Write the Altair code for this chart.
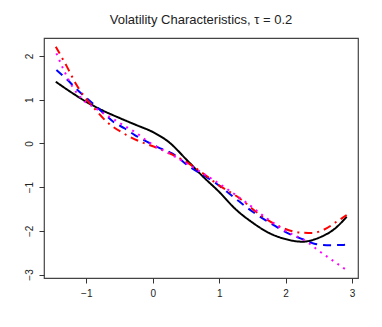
import altair as alt
import pandas as pd

# Solid black curve
black_x = [-1.46, -1.2, -1.0, -0.75, -0.5, -0.25, 0.0, 0.25, 0.5, 0.75, 1.0, 1.25, 1.5, 1.75, 2.0, 2.25, 2.5, 2.75, 2.92]
black_y = [1.41, 1.14, 0.95, 0.75, 0.58, 0.42, 0.26, 0.02, -0.36, -0.75, -1.11, -1.51, -1.81, -2.05, -2.19, -2.25, -2.16, -1.94, -1.68]

# Red dash-dot curve
red_x = [-1.46, -1.29, -1.16, -1.03, -0.88, -0.69, -0.44, -0.19, 0.06, 0.31, 0.54, 0.76, 0.96, 1.31, 1.62, 1.92, 2.22, 2.4, 2.57, 2.77, 2.92]
red_y = [2.21, 1.75, 1.37, 1.07, 0.80, 0.49, 0.23, 0.04, -0.10, -0.27, -0.46, -0.69, -0.92, -1.26, -1.64, -1.91, -2.04, -2.05, -1.98, -1.79, -1.64]

# Blue dashed curve
blue_x = [-1.45, -1.29, -1.16, -0.88, -0.71, -0.59, -0.42, -0.27, -0.09, 0.08, 0.29, 0.56, 0.94, 1.21, 1.51, 1.82, 2.07, 2.27, 2.42, 2.62, 2.92]
blue_y = [1.68, 1.46, 1.26, 0.88, 0.65, 0.49, 0.34, 0.19, 0.04, -0.09, -0.23, -0.54, -0.90, -1.22, -1.57, -1.87, -2.08, -2.20, -2.29, -2.33, -2.32]

# Magenta dotted curve
mag_x = [-1.45, -1.34, -1.21, -1.03, -0.88, -0.49, -0.24, -0.07, 0.34, 0.75, 1.21, 1.42, 1.72, 2.0, 2.32, 2.52, 2.70, 2.92]
mag_y = [2.06, 1.68, 1.30, 0.97, 0.82, 0.46, 0.23, 0.04, -0.31, -0.68, -1.14, -1.37, -1.72, -2.00, -2.25, -2.48, -2.67, -2.90]

x_ticks = [-1, 0, 1, 2, 3]
y_ticks = [-3, -2, -1, 0, 1, 2]

series = ["black", "blue", "red", "magenta"]
colors = ["#000000", "#0000FF", "#FF0000", "#FF00FF"]
dashes = [[1, 0], [8, 6], [8, 5, 2, 5], [2, 5]]

rows = []
for name, xs, ys in [("black", black_x, black_y), ("blue", blue_x, blue_y),
                     ("red", red_x, red_y), ("magenta", mag_x, mag_y)]:
    for xv, yv in zip(xs, ys):
        rows.append({"series": name, "x": xv, "y": yv})
df = pd.DataFrame(rows)

chart = alt.Chart(df).mark_line(strokeWidth=2, interpolate="monotone").encode(
    x=alt.X("x:Q", scale=alt.Scale(domain=[-1.637, 3.09], nice=False, zero=False),
            axis=alt.Axis(values=x_ticks, title=None, grid=False, domain=False,
                          tickSize=5, tickColor="#333", labelFontSize=10,
                          labelColor="#222", labelPadding=5, labelFont="Liberation Sans")),
    y=alt.Y("y:Q", scale=alt.Scale(domain=[-3.08, 2.41], nice=False, zero=False),
            axis=alt.Axis(values=y_ticks, title=None, grid=False, domain=False,
                          tickSize=5, tickColor="#333", labelFontSize=10,
                          labelColor="#222", labelAngle=270, labelAlign="center",
                          labelBaseline="bottom", labelPadding=5,
                          labelFont="Liberation Sans")),
    color=alt.Color("series:N", scale=alt.Scale(domain=series, range=colors), legend=None),
    strokeDash=alt.StrokeDash("series:N", scale=alt.Scale(domain=series, range=dashes), legend=None),
    order=alt.Order("x:Q"),
).properties(
    width=314,
    height=240,
    autosize=alt.AutoSizeParams(type="none"),
    padding={"left": 36, "top": 30, "right": 16, "bottom": 41},
    title=alt.TitleParams("Volatility Characteristics, τ = 0.2", fontSize=13,
                          fontWeight="normal", font="Liberation Sans",
                          color="#222", anchor="middle", offset=11),
).configure_view(stroke="#444", strokeWidth=1.2)

chart.save("out.html", embed_options={"renderer": "svg", "actions": False})
